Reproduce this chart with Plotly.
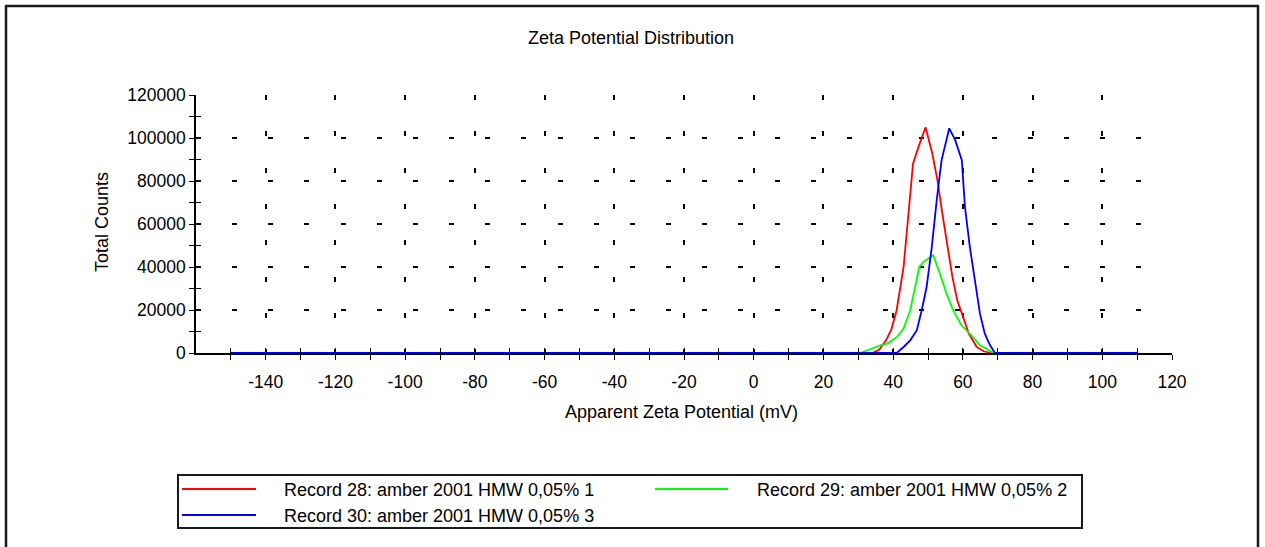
import plotly.graph_objects as go

# ---- data -------------------------------------------------------------
series_names = [
    "Record 28: amber 2001 HMW 0,05% 1",
    "Record 29: amber 2001 HMW 0,05% 2",
    "Record 30: amber 2001 HMW 0,05% 3",
]
series_colors = ["#ff0000", "#00ff00", "#0000ff"]

rec28_x = [-150, 34, 36, 38, 39.5, 41, 43, 44.5, 45.7, 47.3, 49.3, 51.2, 52.7,
           54.1, 55.5, 57, 58.4, 60.3, 61.7, 64, 66, 68, 110]
rec28_y = [0, 0, 1500, 6000, 11000, 19900, 40000, 68000, 88000, 96000, 105000,
           93000, 80400, 65000, 51000, 35400, 24500, 15200, 9000, 2800, 800, 0, 0]

rec29_x = [-150, 30.5, 33, 36.3, 38.5, 41.1, 43, 44.9, 46.3, 47.5, 48.7, 50.1,
           51.5, 53.4, 55.3, 57.2, 59.6, 62, 64.9, 66.8, 68.7, 110]
rec29_y = [0, 0, 1500, 3600, 4500, 7500, 11400, 19900, 30700, 40000, 42400,
           44000, 45500, 37000, 27700, 19900, 12900, 9000, 3600, 2000, 0, 0]

rec30_x = [-150, 41, 43, 44.9, 46.8, 48.2, 49.6, 51.1, 52.5, 53.9, 56.1, 57.8,
           59.7, 60.6, 62, 63.5, 64.9, 66.3, 67.8, 69.2, 110]
rec30_y = [0, 0, 2800, 5900, 10600, 19900, 30700, 49400, 71100, 89700, 104500,
           99000, 89700, 68000, 49400, 32300, 18300, 9000, 3600, 0, 0]

x_major = list(range(-140, 121, 20))
x_minor = list(range(-150, 111, 20))
x_labels = [str(v) for v in x_major]
y_major = list(range(0, 120001, 20000))
y_minor = list(range(10000, 110001, 20000))
y_labels = [str(v) for v in y_major]

# ---- layout geometry (pixels) -----------------------------------------
W, H = 1265, 547
L, R, T, B = 196, 1172, 95, 353
FONT = "Liberation Sans, Arial, sans-serif"
FS = 18
TICK_FS = 17.5


def px(x):
    return (x - L) / (R - L)


def py(y):
    return (B - y) / (B - T)


fig = go.Figure()
for xs, ys, name, col in zip([rec28_x, rec29_x, rec30_x],
                             [rec28_y, rec29_y, rec30_y],
                             series_names, series_colors):
    fig.add_trace(go.Scatter(x=xs, y=ys, mode="lines", name=name,
                             line=dict(color=col, width=1.8),
                             showlegend=False))
# empty trace so the overlay axes (inner half of the crossing ticks) exist
fig.add_trace(go.Scatter(x=[], y=[], xaxis="x2", yaxis="y2",
                         showlegend=False, hoverinfo="skip"))

common_x = dict(range=[-160, 120], tickmode="array", tickvals=x_major,
                ticklen=5, tickwidth=1.2, tickcolor="black", zeroline=False,
                fixedrange=True)
common_y = dict(range=[0, 120000], tickmode="array", tickvals=y_major,
                ticklen=5, tickwidth=1.2, tickcolor="black", zeroline=False,
                fixedrange=True)

fig.update_layout(
    width=W, height=H,
    margin=dict(l=L, r=W - R, t=T, b=H - B),
    paper_bgcolor="white", plot_bgcolor="white",
    font=dict(family=FONT, size=FS, color="black"),
    xaxis=dict(**common_x, ticktext=x_labels, ticks="outside",
               tickfont=dict(size=TICK_FS),
               showline=True, linecolor="black", linewidth=1.5,
               showgrid=True, gridcolor="black", gridwidth=1.6,
               griddash="5px,31.3px", ticklabelstandoff=7,
               minor=dict(tickmode="array", tickvals=x_minor, ticks="outside",
                          ticklen=5, tickcolor="black", showgrid=False)),
    yaxis=dict(**common_y, ticktext=y_labels, ticks="outside",
               tickfont=dict(size=TICK_FS),
               showline=True, linecolor="black", linewidth=1.5,
               showgrid=True, gridcolor="black", gridwidth=1.6,
               griddash="5px,31.16px",
               minor=dict(tickmode="array", tickvals=y_minor, ticks="outside",
                          ticklen=5, tickcolor="black", showgrid=False)),
    xaxis2=dict(**common_x, overlaying="x", anchor="y", side="bottom",
                ticks="inside", showticklabels=False, showgrid=False,
                showline=False,
                minor=dict(tickmode="array", tickvals=x_minor, ticks="inside",
                           ticklen=5, tickcolor="black", showgrid=False)),
    yaxis2=dict(**common_y, overlaying="y", anchor="x", side="left",
                ticks="inside", showticklabels=False, showgrid=False,
                showline=False,
                minor=dict(tickmode="array", tickvals=y_minor, ticks="inside",
                           ticklen=5, tickcolor="black", showgrid=False)),
)

shapes = []
# outer frame
shapes.append(dict(type="rect", xref="paper", yref="paper",
                   x0=px(6), x1=px(1258), y0=py(6), y1=py(620),
                   line=dict(color="#1a1a1a", width=2.5)))
# legend box
shapes.append(dict(type="rect", xref="paper", yref="paper",
                   x0=px(178), x1=px(1082), y0=py(475), y1=py(528),
                   line=dict(color="#1a1a1a", width=2)))

annotations = [
    dict(text="Zeta Potential Distribution", x=px(631), y=py(38)),
    dict(text="Apparent Zeta Potential (mV)", x=px(681), y=py(412)),
    dict(text="Total Counts", x=px(102), y=py(222), textangle=-90),
]

# legend entries: sample line + label
legend_slots = [(182, 256, 489, 282), (655, 728, 489, 755), (182, 256, 515, 282)]
for (x0, x1, yy, tx), name, col in zip(legend_slots, series_names, series_colors):
    shapes.append(dict(type="line", xref="paper", yref="paper",
                       x0=px(x0), x1=px(x1), y0=py(yy), y1=py(yy),
                       line=dict(color=col, width=2)))
    annotations.append(dict(text=name, x=px(tx), y=py(yy + 1),
                            xanchor="left"))

for a in annotations:
    a.setdefault("xanchor", "center")
    a.update(xref="paper", yref="paper", yanchor="middle", showarrow=False,
             font=dict(family=FONT, size=FS, color="black"))

fig.update_layout(shapes=shapes, annotations=annotations)

fig.write_html("out.html")
